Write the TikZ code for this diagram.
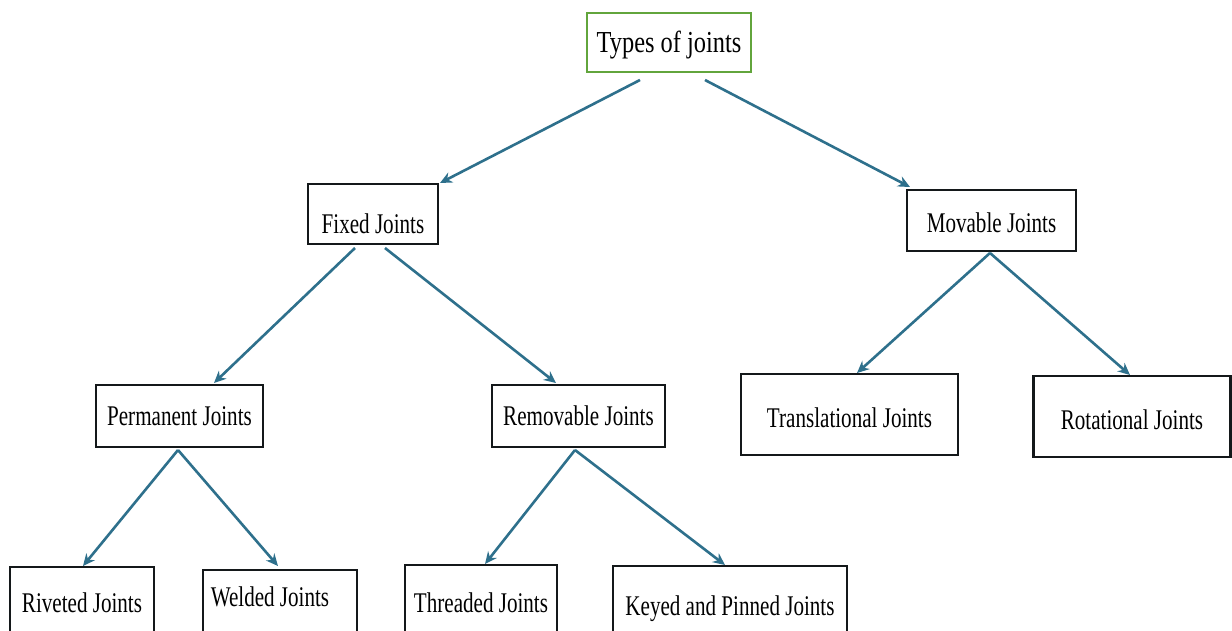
\documentclass[tikz,border=0pt]{standalone}
\usepackage{fontspec}
\setmainfont[FakeStretch=0.74]{Liberation Serif}
\newfontfamily\topfont[FakeStretch=0.80]{Liberation Serif}
\usetikzlibrary{arrows.meta}
\definecolor{arrowblue}{RGB}{46,112,140}
\definecolor{boxgreen}{RGB}{98,165,60}
\definecolor{boxline}{RGB}{20,24,26}
\begin{document}
\begin{tikzpicture}[x=1pt,y=-1pt,
  bx/.style={draw=boxline,line width=2.8pt,fill=white,inner ysep=0pt,inner xsep=4pt,
    outer sep=0pt,anchor=north,font=\fontsize{28.5pt}{31pt}\selectfont},
  arr/.style={draw=arrowblue,line width=2.6pt,-{Stealth[length=12pt,width=11pt]}}]
\useasboundingbox (0,0) rectangle (1232,630);
\clip (0,0) rectangle (1232,630);
\fill[white] (0,0) rectangle (1232,630);

\node[bx,draw=boxgreen,minimum width=164pt,text height=39pt,text depth=20pt,
  font=\topfont\fontsize{30.5pt}{33pt}\selectfont] (top) at (669,13) {Types of joints};

\node[bx,minimum width=130pt,text height=49pt,text depth=11pt] (fixed) at (373,184) {Fixed Joints};
\node[bx,minimum width=169pt,text height=42pt,text depth=19pt] (mov) at (991.5,190) {Movable Joints};

\node[bx,minimum width=167pt,text height=40pt,text depth=22pt] (perm) at (179.5,385) {Permanent Joints};
\node[bx,minimum width=173pt,text height=40pt,text depth=22pt] (rem) at (578.5,385) {Removable Joints};
\node[bx,minimum width=217pt,text height=53pt,text depth=28pt] (trans) at (849.5,374) {Translational Joints};
\node[bx,minimum width=197pt,text height=53pt,text depth=28pt] (rot) at (1132,376) {Rotational Joints};

\node[bx,minimum width=144pt,text height=45pt,text depth=22pt] (riv) at (82,567) {Riveted Joints};
\node[bx,minimum width=154pt,text height=36pt,text depth=28pt] (wel) at (280,570) {Welded Joints\hspace*{20pt}};
\node[bx,minimum width=152pt,text height=47pt,text depth=22pt] (thr) at (481,565) {Threaded Joints};
\node[bx,minimum width=234pt,text height=49pt,text depth=19pt] (key) at (730,566) {Keyed and Pinned Joints};

\draw[arr] ([xshift=-29pt,yshift=-8pt]top.south) -- ([xshift=2pt,yshift=1pt]fixed.north east);
\draw[arr] ([xshift=36pt,yshift=-8pt]top.south) -- ([xshift=3pt,yshift=3pt]mov.north west);

\draw[arr] ([xshift=-18pt,yshift=-4pt]fixed.south) -- ([xshift=34.5pt,yshift=2pt]perm.north);
\draw[arr] ([xshift=12pt,yshift=-4pt]fixed.south) -- ([xshift=-22.5pt,yshift=2pt]rem.north);

\draw[arr] ([xshift=-1.5pt,yshift=-2pt]mov.south) -- ([xshift=7.5pt,yshift=1pt]trans.north);
\draw[arr] ([xshift=-1.5pt,yshift=-2pt]mov.south) -- ([xshift=-2pt,yshift=1pt]rot.north);

\draw[arr] ([xshift=-1.5pt,yshift=-3pt]perm.south) -- ([xshift=1pt,yshift=1pt]riv.north);
\draw[arr] ([xshift=-1.5pt,yshift=-3pt]perm.south) -- ([xshift=-2pt,yshift=4pt]wel.north);

\draw[arr] ([xshift=-3.5pt,yshift=-3pt]rem.south) -- ([xshift=4pt,yshift=1pt]thr.north);
\draw[arr] ([xshift=-3.5pt,yshift=-3pt]rem.south) -- ([xshift=-5pt,yshift=1pt]key.north);
\end{tikzpicture}
\end{document}
